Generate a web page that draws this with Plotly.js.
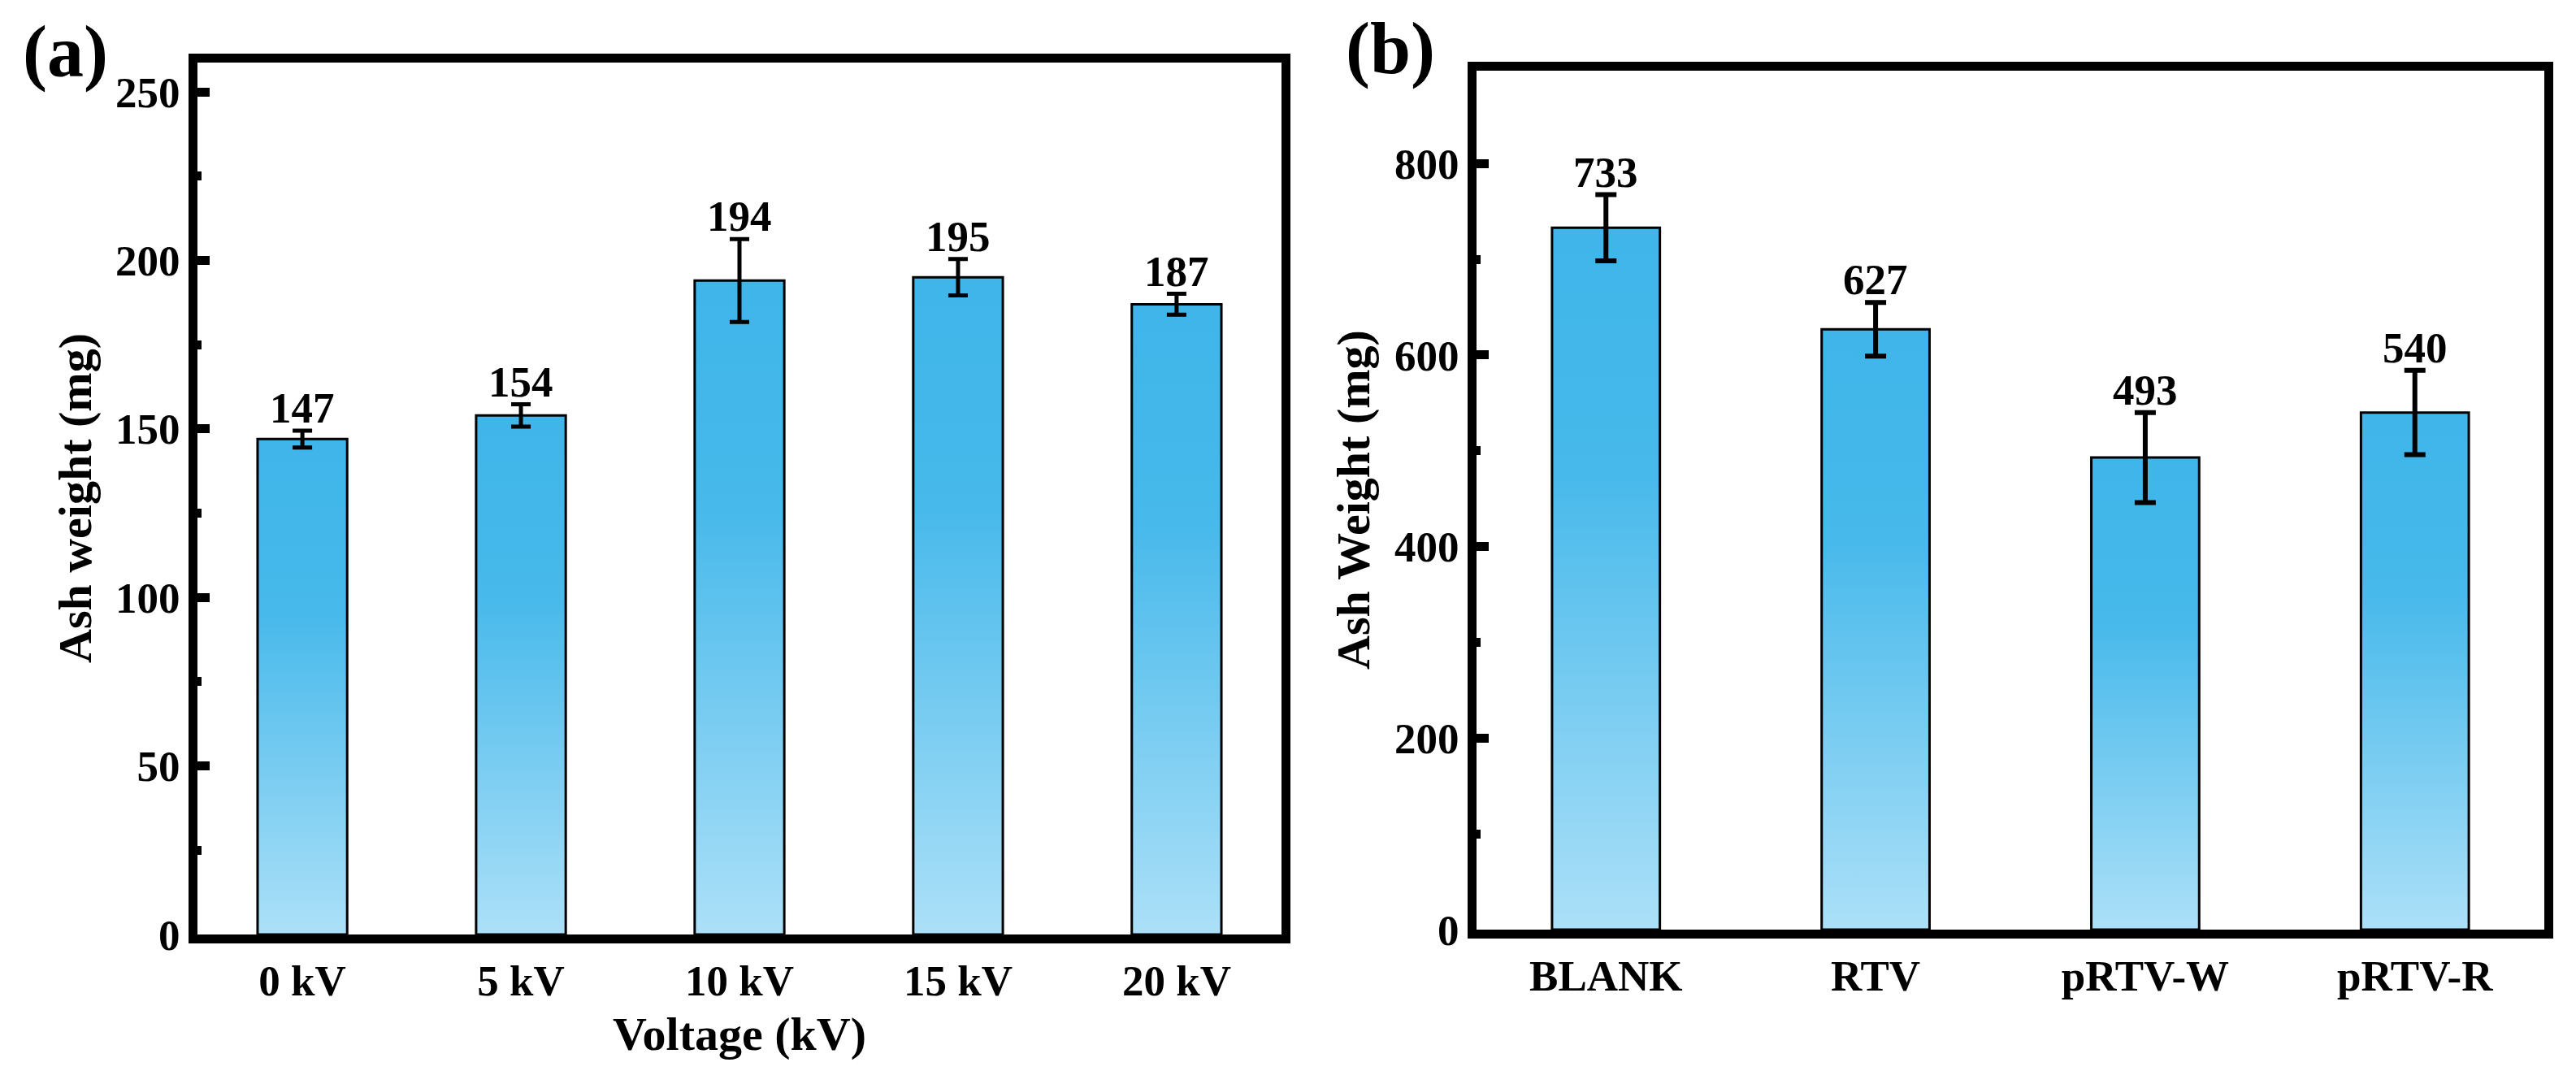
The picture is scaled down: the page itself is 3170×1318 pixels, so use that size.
<!DOCTYPE html>
<html>
<head>
<meta charset="utf-8">
<script src="https://cdn.plot.ly/plotly-3.0.1.min.js"></script>
<style>
  html, body { margin: 0; padding: 0; background: #ffffff; }
  #graph { width: 3170px; height: 1318px; }
</style>
</head>
<body>
<div id="graph"></div>
<script>
// panel (a): ash weight vs. voltage
const voltages = ["0 kV", "5 kV", "10 kV", "15 kV", "20 kV"];
const ashA = [147, 154, 194, 195, 187];
const errA = [2.5, 3.3, 12.3, 5.4, 3.1];

// panel (b): ash weight vs. coating
const samples = ["BLANK", "RTV", "pRTV-W", "pRTV-R"];
const ashB = [733, 627, 493, 540];
const errB = [34.5, 28, 47, 44];

const FONT = "Liberation Serif, Times New Roman, serif";
const W = 3170, H = 1318;

function px(x) { return x / W; }
function py(y) { return 1 - y / H; }

function barTrace(x, y, err, xa, ya, width, capw, thick) {
    return {
        type: "bar",
        x: x,
        y: y,
        xaxis: xa,
        yaxis: ya,
        width: width,
        marker: { color: "#5bbfec", line: { color: "#000000", width: 3 } },
        error_y: { type: "data", array: err, visible: true, color: "#000000", thickness: thick, width: capw },
        hoverinfo: "x+y",
        showlegend: false
    };
}

function valueLabels(x, y, err, xref, yref) {
    return x.map(function (cat, i) {
        return {
            x: cat,
            y: y[i] + err[i],
            xref: xref,
            yref: yref,
            text: String(y[i]),
            showarrow: false,
            xanchor: "center",
            yanchor: "bottom",
            yshift: -3,
            font: { family: FONT, size: 53, color: "#000000", weight: "bold" }
        };
    });
}

const yAxisBase = {
    showline: true,
    linecolor: "#000000",
    linewidth: 11,
    mirror: true,
    ticks: "inside",
    ticklen: 15,
    tickwidth: 11,
    tickcolor: "#000000",
    showgrid: false,
    zeroline: false,
    tickfont: { family: FONT, size: 53, color: "#000000", weight: "bold" },
    fixedrange: true
};

const xAxisBase = {
    type: "category",
    showline: true,
    linecolor: "#000000",
    linewidth: 11,
    mirror: true,
    ticks: "",
    showgrid: false,
    zeroline: false,
    tickfont: { family: FONT, size: 53, color: "#000000", weight: "bold" },
    fixedrange: true
};

const titleFont = { family: FONT, size: 58, color: "#000000", weight: "bold" };
const panelFont = { family: FONT, size: 90, color: "#000000", weight: "bold" };

const annotations = []
    .concat(valueLabels(voltages, ashA, errA, "x", "y"))
    .concat(valueLabels(samples, ashB, errB, "x2", "y2"))
    .concat([
        { text: "(a)", x: px(80), y: py(64), xref: "paper", yref: "paper", showarrow: false,
          xanchor: "center", yanchor: "middle", font: panelFont },
        { text: "(b)", x: px(1711), y: py(60), xref: "paper", yref: "paper", showarrow: false,
          xanchor: "center", yanchor: "middle", font: panelFont },
        { text: "Ash weight (mg)", x: px(92), y: py(613), xref: "paper", yref: "paper", showarrow: false,
          textangle: -90, xanchor: "center", yanchor: "middle", font: titleFont },
        { text: "Ash Weight (mg)", x: px(1665), y: py(615), xref: "paper", yref: "paper", showarrow: false,
          textangle: -90, xanchor: "center", yanchor: "middle", font: titleFont },
        { text: "Voltage (kV)", x: px(910), y: py(1272), xref: "paper", yref: "paper", showarrow: false,
          xanchor: "center", yanchor: "middle", font: titleFont }
    ]);

const layout = {
    width: W,
    height: H,
    margin: { l: 0, r: 0, t: 0, b: 0 },
    paper_bgcolor: "#ffffff",
    plot_bgcolor: "#ffffff",
    showlegend: false,
    xaxis: Object.assign({}, xAxisBase, {
        domain: [px(243), px(1577)],
        anchor: "y",
        categoryorder: "array",
        categoryarray: voltages,
        range: [-0.48, 4.48]
    }),
    yaxis: Object.assign({}, yAxisBase, {
        domain: [py(1150), py(77)],
        anchor: "x",
        range: [0, 258.7],
        tickvals: [0, 50, 100, 150, 200, 250],
        minor: { dtick: 25, ticks: "inside", ticklen: 5, tickwidth: 11, tickcolor: "#000000", showgrid: false }
    }),
    xaxis2: Object.assign({}, xAxisBase, {
        domain: [px(1817), px(3131)],
        anchor: "y2",
        categoryorder: "array",
        categoryarray: samples,
        range: [-0.48, 3.48]
    }),
    yaxis2: Object.assign({}, yAxisBase, {
        domain: [py(1144), py(87)],
        anchor: "x2",
        range: [0, 897],
        tickvals: [0, 200, 400, 600, 800],
        minor: { dtick: 100, ticks: "inside", ticklen: 5, tickwidth: 11, tickcolor: "#000000", showgrid: false }
    }),
    annotations: annotations
};

const traces = [
    barTrace(voltages, ashA, errA, "x", "y", 0.41, 12, 5),
    barTrace(samples, ashB, errB, "x2", "y2", 0.40, 13, 6)
];

Plotly.newPlot("graph", traces, layout, { displayModeBar: false, staticPlot: true }).then(function (gd) {
    // vertical gradient fill on every bar, bright at the top and pale at the base
    const ns = "http://www.w3.org/2000/svg";
    const svg = gd.querySelector(".main-svg");
    let defs = svg.querySelector("defs");
    if (!defs) {
        defs = document.createElementNS(ns, "defs");
        svg.insertBefore(defs, svg.firstChild);
    }
    const grad = document.createElementNS(ns, "linearGradient");
    grad.setAttribute("id", "barGrad");
    grad.setAttribute("x1", "0");
    grad.setAttribute("y1", "0");
    grad.setAttribute("x2", "0");
    grad.setAttribute("y2", "1");
    [["0", "#3fb5e9"], ["0.35", "#47b9eb"], ["1", "#ace0f8"]].forEach(function (s) {
        const stop = document.createElementNS(ns, "stop");
        stop.setAttribute("offset", s[0]);
        stop.setAttribute("stop-color", s[1]);
        grad.appendChild(stop);
    });
    defs.appendChild(grad);
    gd.querySelectorAll(".bars .point path").forEach(function (p) {
        p.style.fill = "url(#barGrad)";
    });
});
</script>
</body>
</html>
